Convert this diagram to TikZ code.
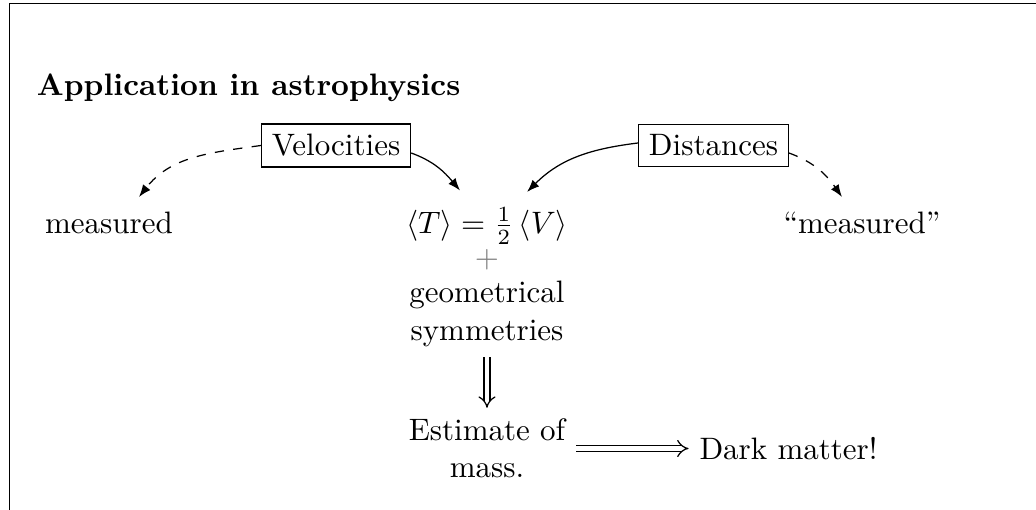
\documentclass[tikz,border=0pt]{standalone}
\usetikzlibrary{arrows.meta,calc}
\begin{document}
\begin{tikzpicture}[x=0.32258pt,y=0.32258pt,
  box/.style={draw,line width=0.4pt},
  arr/.style={-{Latex[length=4pt,width=3pt]}},
  darr/.style={arr,dashed},
  imp/.style={double equal sign distance,-{Implies}}]
\useasboundingbox (0,0) rectangle (1036,-510);
\draw (9.5,-510) -- (9.5,-3.5) -- (1036,-3.5);
\node[anchor=base west,font=\bfseries] (title) at (26,-96) {Application in astrophysics};
\node[box] (vel) at (336,-145.5) {Velocities};
\node[box] (dist) at (713.5,-145.5) {Distances};
\node[anchor=base] (m1) at (109,-233.5) {measured};
\node[anchor=base] (m2) at (862,-233.5) {``measured''};
\node[anchor=base] (eq) at (487,-233.5) {$\langle T\rangle = \frac{1}{2}\,\langle V\rangle$};
\node[text=gray] (plus) at (487,-259.5) {$+$};
\node[align=center] (geo) at (487,-314) {geometrical\\symmetries};
\node[align=center] (est) at (487,-448.5) {Estimate of\\mass.};
\node (dark) at (788.5,-448.5) {Dark matter!};
\draw[arr] ($(vel.east)+(0,-7.5)$) to[out=-20,in=130] ($(eq.base)+(-27,43)$);
\draw[arr] ($(dist.west)+(0,2.5)$) to[out=187,in=45] ($(eq.base)+(40,41.5)$);
\draw[darr] (vel.west) to[out=188,in=52] ($(m1.base)+(30,36.5)$);
\draw[darr] ($(dist.east)+(0,-7.5)$) to[out=-20,in=125] ($(m2.base)+(-20,36.5)$);
\draw[imp] (geo) -- (est);
\draw[imp] (est) -- (dark);
\end{tikzpicture}
\end{document}
